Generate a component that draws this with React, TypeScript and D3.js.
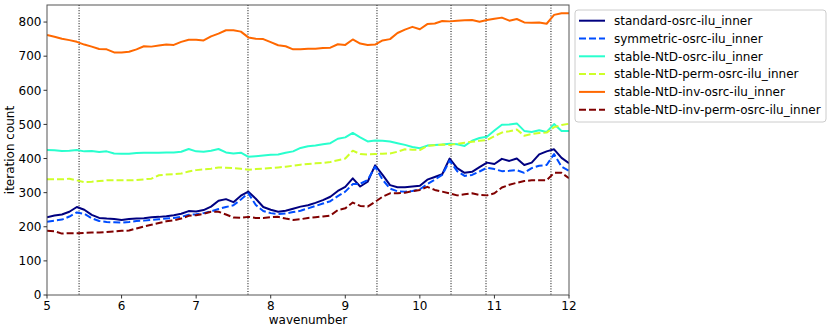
import React from "react";
import * as d3 from "d3";

const wavenumbers: number[] = d3.range(71).map((i) => +(5 + i * 0.1).toFixed(1));

const standardOsrc = [228,233,236,244,258,250,235,226,224,223,220,223,224,225,228,229,231,234,238,246,245,249,259,276,281,272,291,303,282,258,250,244,247,253,259,263,270,278,288,305,317,342,318,332,380,352,322,316,316,318,320,338,346,354,400,372,358,361,375,388,384,399,393,400,381,388,412,421,427,402,386];
const symmetricOsrc = [215,218,221,230,242,238,225,217,214,213,212,214,217,218,220,222,224,226,229,235,237,240,245,252,258,263,280,298,264,246,240,237,239,243,247,254,261,268,275,290,303,325,326,337,376,338,312,304,303,305,310,325,338,352,394,363,349,352,362,373,369,363,364,366,358,372,379,381,413,376,364];
const stableNtD = [425,424,422,423,425,421,422,419,421,415,414,414,416,417,417,417,418,418,420,428,421,420,423,428,418,415,417,405,407,409,411,412,417,421,431,436,438,442,445,458,462,475,462,450,453,452,450,445,440,434,430,438,440,441,443,442,437,452,460,464,482,499,500,503,481,478,483,478,501,481,481];
const stableNtDPerm = [339,339,339,341,336,331,332,334,336,336,336,336,337,339,341,351,353,354,356,362,366,368,370,374,373,372,370,367,369,370,372,374,376,379,382,384,386,387,390,395,400,423,413,412,413,414,415,420,427,426,425,437,439,441,440,443,446,449,452,454,466,476,480,485,467,472,475,476,492,498,502];
const stableNtDInv = [762,757,751,747,742,734,728,721,720,711,711,713,720,729,728,731,734,733,742,748,748,746,758,766,776,776,772,755,751,750,741,732,729,720,720,722,722,724,725,735,733,749,737,733,734,746,750,768,778,786,779,794,796,803,802,804,805,806,801,806,810,813,804,809,799,798,799,795,821,826,826];
const stableNtDInvPerm = [188,187,180,181,181,182,183,183,185,186,188,189,195,201,206,211,216,219,224,232,234,238,244,244,236,227,226,229,226,226,228,229,224,220,222,226,228,230,233,249,254,271,261,259,273,288,298,298,300,304,308,317,308,303,298,292,295,298,293,292,298,315,323,329,334,336,336,336,358,358,342];

const seriesNames = [
  "standard-osrc-ilu_inner",
  "symmetric-osrc-ilu_inner",
  "stable-NtD-osrc-ilu_inner",
  "stable-NtD-perm-osrc-ilu_inner",
  "stable-NtD-inv-osrc-ilu_inner",
  "stable-NtD-inv-perm-osrc-ilu_inner",
];
const seriesValues = [standardOsrc, symmetricOsrc, stableNtD, stableNtDPerm, stableNtDInv, stableNtDInvPerm];
const seriesColors = ["#000080", "#004dff", "#29ffce", "#ceff29", "#ff6800", "#800000"];
const seriesDashed = [false, true, false, true, false, true];

const resonances = [5.43, 7.695, 9.425, 10.418, 10.887, 11.758];
const xTicks = [5, 6, 7, 8, 9, 10, 11, 12];
const yTicks = [0, 100, 200, 300, 400, 500, 600, 700, 800];

const W = 831, H = 331;
const M = { left: 47, right: 569, top: 5, bottom: 295 };
const FONT = "DejaVu Sans, sans-serif";

export default function App() {
  const x = d3.scaleLinear().domain([5, 12]).range([M.left, M.right]);
  const y = d3.scaleLinear().domain([0, 850]).range([M.bottom, M.top]);
  const line = d3
    .line<number>()
    .x((_, i) => x(wavenumbers[i]))
    .y((d) => y(d));

  const legendX = 575, legendY = 10, legendW = 251, legendH = 112, rowH = 17.8;

  return (
    <svg width={W} height={H} style={{ position: "absolute", left: 0, top: 0, background: "#fff" }} fontFamily={FONT}>
      <rect x={0} y={0} width={W} height={H} fill="#fff" />
      <defs>
        <clipPath id="plotclip">
          <rect x={M.left} y={M.top} width={M.right - M.left} height={M.bottom - M.top} />
        </clipPath>
      </defs>
      {resonances.map((r, i) => (
        <line key={"r" + i} x1={x(r)} x2={x(r)} y1={M.top} y2={M.bottom} stroke="#000" strokeWidth={1} strokeDasharray="1,1.6" />
      ))}
      <g clipPath="url(#plotclip)">
        {seriesValues.map((vals, i) => (
          <path
            key={"s" + i}
            d={line(vals) || ""}
            fill="none"
            stroke={seriesColors[i]}
            strokeWidth={2}
            strokeDasharray={seriesDashed[i] ? "7,3" : undefined}
            strokeLinejoin="round"
          />
        ))}
      </g>
      <rect x={M.left} y={M.top} width={M.right - M.left} height={M.bottom - M.top} fill="none" stroke="#555" strokeWidth={1} />
      {xTicks.map((t) => (
        <g key={"xt" + t}>
          <line x1={x(t)} x2={x(t)} y1={M.bottom} y2={M.bottom + 3.5} stroke="#333" />
          <text x={x(t)} y={M.bottom + 15} fontSize={12} textAnchor="middle" fill="#000">{t}</text>
        </g>
      ))}
      {yTicks.map((t) => (
        <g key={"yt" + t}>
          <line x1={M.left - 3.5} x2={M.left} y1={y(t)} y2={y(t)} stroke="#333" />
          <text x={M.left - 5.5} y={y(t) + 4.3} fontSize={12} textAnchor="end" fill="#000">{t}</text>
        </g>
      ))}
      <text x={(M.left + M.right) / 2} y={324} fontSize={12} textAnchor="middle" fill="#000">wavenumber</text>
      <text transform={`translate(14,${(M.top + M.bottom) / 2}) rotate(-90)`} fontSize={12} textAnchor="middle" fill="#000">iteration count</text>
      <rect x={legendX} y={legendY} width={legendW} height={legendH} rx={3} fill="#fff" fillOpacity={0.8} stroke="#ccc" strokeWidth={1} />
      {seriesNames.map((name, i) => {
        const cy = legendY + 10.7 + i * rowH;
        return (
          <g key={"lg" + i}>
            <line x1={579} x2={605} y1={cy} y2={cy} stroke={seriesColors[i]} strokeWidth={2} strokeDasharray={seriesDashed[i] ? "7,3" : undefined} />
            <text x={614} y={cy + 4.3} fontSize={12} fill="#000">{name}</text>
          </g>
        );
      })}
    </svg>
  );
}
